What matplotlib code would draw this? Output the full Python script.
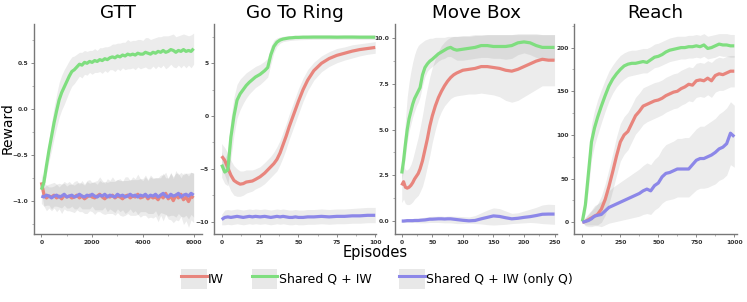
import numpy as np
import matplotlib
matplotlib.use("Agg")
import matplotlib.pyplot as plt
from matplotlib.lines import Line2D
from matplotlib.patches import Patch
from matplotlib.legend_handler import HandlerTuple
from matplotlib.ticker import AutoMinorLocator, FixedLocator

# ---------------- data ----------------
series_names = ["IW", "Shared Q + IW", "Shared Q + IW (only Q)"]
panel_titles = ["GTT", "Go To Ring", "Move Box", "Reach"]

# GTT (x every 100 episodes)
gtt_x = list(range(0, 6001, 100))
gtt_green = [-0.88, -0.80, -0.62, -0.45, -0.30, -0.15, -0.02, 0.10, 0.18, 0.24, 0.30,
             0.36, 0.41, 0.43, 0.46, 0.49, 0.48, 0.51, 0.50, 0.52, 0.51, 0.53, 0.52,
             0.54, 0.53, 0.55, 0.54, 0.56, 0.57, 0.56, 0.58, 0.57, 0.59, 0.58, 0.60,
             0.59, 0.60, 0.59, 0.61, 0.60, 0.60, 0.62, 0.61, 0.60, 0.62, 0.61, 0.63,
             0.62, 0.64, 0.62, 0.63, 0.65, 0.64, 0.62, 0.64, 0.63, 0.65, 0.63, 0.64,
             0.63, 0.66]
gtt_green_sd = [0.04, 0.06, 0.09, 0.12, 0.15, 0.17, 0.18, 0.19, 0.19, 0.19, 0.18,
                0.17, 0.16, 0.15, 0.14, 0.13, 0.14, 0.13, 0.13, 0.12, 0.13, 0.13, 0.12,
                0.13, 0.14, 0.13, 0.14, 0.13, 0.14, 0.15, 0.14, 0.15, 0.14, 0.15, 0.16,
                0.15, 0.15, 0.16, 0.15, 0.16, 0.15, 0.16, 0.17, 0.16, 0.15, 0.17, 0.16,
                0.17, 0.16, 0.18, 0.17, 0.16, 0.18, 0.17, 0.16, 0.18, 0.17, 0.18, 0.16,
                0.18, 0.17]
gtt_red = [-0.80, -0.93, -0.97, -0.95, -0.96, -0.94, -0.97, -0.95, -0.98, -0.94, -0.96,
           -0.95, -0.97, -0.96, -0.94, -0.97, -0.95, -0.98, -0.96, -0.94, -0.96, -0.97,
           -0.95, -0.93, -0.96, -0.98, -0.95, -0.96, -0.94, -0.97, -0.95, -0.96, -0.98,
           -0.95, -0.94, -0.97, -0.95, -0.96, -0.93, -0.97, -0.96, -0.94, -0.98, -0.95,
           -0.97, -0.96, -0.99, -0.94, -0.97, -0.92, -0.98, -0.95, -1.00, -0.94, -0.97,
           -0.93, -0.99, -0.96, -1.01, -0.95, -0.97]
gtt_red_sd = [0.10, 0.13, 0.14, 0.13, 0.15, 0.14, 0.15, 0.14, 0.16, 0.15, 0.15,
              0.16, 0.15, 0.17, 0.16, 0.15, 0.17, 0.16, 0.18, 0.17, 0.16, 0.18, 0.17,
              0.19, 0.18, 0.17, 0.19, 0.18, 0.20, 0.19, 0.18, 0.20, 0.19, 0.21, 0.20,
              0.19, 0.21, 0.20, 0.22, 0.21, 0.20, 0.22, 0.21, 0.23, 0.22, 0.21, 0.24,
              0.22, 0.25, 0.23, 0.22, 0.26, 0.24, 0.27, 0.25, 0.24, 0.27, 0.26, 0.28,
              0.26, 0.27]
gtt_purple = [-0.95, -0.96, -0.94, -0.95, -0.97, -0.95, -0.94, -0.96, -0.95, -0.93, -0.96,
              -0.95, -0.94, -0.96, -0.95, -0.93, -0.95, -0.96, -0.94, -0.95, -0.93, -0.95,
              -0.96, -0.94, -0.95, -0.93, -0.96, -0.94, -0.95, -0.96, -0.93, -0.95, -0.94,
              -0.96, -0.95, -0.93, -0.95, -0.94, -0.96, -0.94, -0.95, -0.93, -0.96, -0.94,
              -0.95, -0.93, -0.96, -0.94, -0.92, -0.95, -0.96, -0.93, -0.95, -0.94, -0.92,
              -0.96, -0.94, -0.93, -0.95, -0.92, -0.94]
gtt_purple_sd = [0.08, 0.10, 0.11, 0.10, 0.12, 0.11, 0.12, 0.11, 0.13, 0.12, 0.12,
                 0.13, 0.12, 0.13, 0.14, 0.13, 0.14, 0.13, 0.15, 0.14, 0.13, 0.15, 0.14,
                 0.16, 0.15, 0.14, 0.16, 0.15, 0.16, 0.17, 0.16, 0.17, 0.16, 0.18, 0.17,
                 0.16, 0.18, 0.17, 0.19, 0.18, 0.17, 0.19, 0.18, 0.20, 0.19, 0.18, 0.21,
                 0.19, 0.22, 0.20, 0.21, 0.23, 0.21, 0.24, 0.22, 0.21, 0.24, 0.23, 0.25,
                 0.23, 0.24]

# Go To Ring
gtr_x = [0, 2, 4, 6, 8, 10, 12, 14, 16, 18, 20, 22, 25, 28, 30, 32, 34, 36, 38, 40,
         42, 44, 46, 48, 50, 53, 56, 60, 65, 70, 75, 80, 85, 90, 95, 100]
gtr_green = [-4.6, -5.3, -5.1, -2.0, 0.0, 1.5, 2.1, 2.5, 2.9, 3.2, 3.45, 3.7, 3.95, 4.3,
             4.6, 5.8, 6.6, 7.0, 7.2, 7.3, 7.35, 7.4, 7.42, 7.45, 7.45, 7.47, 7.47, 7.48,
             7.48, 7.48, 7.47, 7.48, 7.48, 7.47, 7.47, 7.47]
gtr_green_lo = [-5.8, -6.4, -6.6, -4.0, -1.8, -0.2, 0.6, 1.2, 1.7, 2.1, 2.4, 2.7, 3.0,
                3.4, 3.7, 4.9, 6.0, 6.6, 6.9, 7.05, 7.1, 7.15, 7.18, 7.2, 7.22, 7.24,
                7.25, 7.26, 7.26, 7.26, 7.25, 7.26, 7.26, 7.25, 7.25, 7.25]
gtr_green_hi = [-3.4, -4.0, -3.4, -0.2, 1.8, 3.0, 3.5, 3.8, 4.1, 4.3, 4.5, 4.7, 4.9,
                5.2, 5.5, 6.6, 7.2, 7.4, 7.5, 7.55, 7.6, 7.62, 7.64, 7.66, 7.67, 7.68,
                7.69, 7.7, 7.7, 7.7, 7.69, 7.7, 7.7, 7.69, 7.69, 7.69]
gtr_red = [-3.8, -4.2, -4.9, -5.6, -6.1, -6.3, -6.45, -6.4, -6.25, -6.2, -6.15, -6.0,
           -5.75, -5.4, -5.1, -4.8, -4.5, -4.1, -3.5, -2.7, -1.9, -1.0, -0.2, 0.6, 1.4,
           2.5, 3.4, 4.3, 5.0, 5.45, 5.75, 5.95, 6.15, 6.3, 6.4, 6.5]
gtr_red_lo = [-5.0, -5.6, -6.4, -7.1, -7.5, -7.6, -7.6, -7.5, -7.3, -7.2, -7.1, -6.9,
              -6.7, -6.4, -6.1, -5.8, -5.5, -5.2, -4.6, -3.9, -3.1, -2.2, -1.4, -0.6,
              0.2, 1.4, 2.4, 3.4, 4.2, 4.7, 5.05, 5.3, 5.5, 5.7, 5.85, 5.95]
gtr_red_hi = [-2.6, -3.0, -3.5, -4.2, -4.7, -5.0, -5.2, -5.2, -5.1, -5.1, -5.1, -5.0,
              -4.8, -4.4, -4.1, -3.8, -3.4, -2.9, -2.3, -1.5, -0.7, 0.2, 1.0, 1.8, 2.6,
              3.6, 4.4, 5.1, 5.7, 6.1, 6.4, 6.55, 6.75, 6.85, 6.95, 7.05]
gtr_purple = [-9.8, -9.6, -9.55, -9.6, -9.55, -9.5, -9.55, -9.6, -9.55, -9.5, -9.55,
              -9.5, -9.55, -9.5, -9.55, -9.6, -9.55, -9.5, -9.55, -9.5, -9.55, -9.6,
              -9.6, -9.55, -9.6, -9.6, -9.55, -9.55, -9.5, -9.55, -9.5, -9.5, -9.45,
              -9.45, -9.4, -9.4]
gtr_purple_lo = [-10.3, -10.3, -10.25, -10.3, -10.25, -10.2, -10.25, -10.3, -10.25,
                 -10.2, -10.25, -10.2, -10.25, -10.2, -10.25, -10.3, -10.25, -10.2,
                 -10.25, -10.2, -10.25, -10.3, -10.3, -10.25, -10.3, -10.3, -10.25,
                 -10.25, -10.2, -10.25, -10.2, -10.2, -10.15, -10.15, -10.1, -10.1]
gtr_purple_hi = [-9.3, -8.9, -8.85, -8.9, -8.85, -8.8, -8.85, -8.9, -8.85, -8.8, -8.85,
                 -8.8, -8.85, -8.8, -8.85, -8.9, -8.85, -8.8, -8.85, -8.8, -8.85, -8.9,
                 -8.9, -8.85, -8.9, -8.9, -8.85, -8.85, -8.8, -8.85, -8.8, -8.8, -8.75,
                 -8.7, -8.65, -8.65]

# Move Box
mb_x = [0, 3, 6, 9, 12, 15, 18, 21, 24, 27, 30, 34, 38, 42, 46, 50, 55, 60, 65, 70,
        75, 80, 85, 90, 100, 110, 120, 130, 140, 150, 160, 170, 180, 190, 200, 210,
        220, 230, 240, 250]
mb_green = [2.6, 3.3, 4.2, 5.0, 5.6, 6.0, 6.4, 6.7, 6.9, 7.1, 7.3, 8.0, 8.4, 8.6, 8.75,
            8.85, 9.0, 9.15, 9.25, 9.35, 9.45, 9.5, 9.4, 9.35, 9.4, 9.45, 9.5, 9.6, 9.6,
            9.55, 9.55, 9.55, 9.6, 9.75, 9.8, 9.75, 9.6, 9.5, 9.5, 9.5]
mb_green_lo = [2.2, 2.8, 3.5, 4.3, 4.9, 5.3, 5.7, 6.0, 6.3, 6.5, 6.8, 7.4, 7.9, 8.2,
               8.35, 8.45, 8.6, 8.75, 8.85, 8.9, 9.0, 9.0, 8.9, 8.8, 8.8, 8.85, 8.9,
               8.95, 8.95, 8.9, 8.9, 8.85, 8.9, 9.1, 9.2, 9.1, 8.95, 8.85, 8.8, 8.8]
mb_green_hi = [3.2, 4.2, 5.5, 6.8, 7.6, 8.2, 8.7, 9.1, 9.4, 9.6, 9.7, 9.8, 9.9, 9.95,
               10.0, 10.0, 10.05, 10.05, 10.05, 10.05, 10.1, 10.1, 10.1, 10.1, 10.1,
               10.1, 10.15, 10.15, 10.2, 10.2, 10.2, 10.2, 10.2, 10.25, 10.25, 10.25,
               10.25, 10.2, 10.2, 10.2]
mb_red = [1.95, 2.15, 1.85, 1.8, 1.85, 1.95, 2.1, 2.3, 2.45, 2.6, 2.85, 3.3, 3.9, 4.5,
          5.2, 5.75, 6.3, 6.75, 7.1, 7.4, 7.65, 7.85, 8.0, 8.1, 8.25, 8.3, 8.35, 8.45,
          8.45, 8.4, 8.35, 8.25, 8.2, 8.3, 8.45, 8.6, 8.75, 8.85, 8.8, 8.8]
mb_red_lo = [1.0, 1.2, 0.95, 0.9, 0.9, 0.95, 1.05, 1.2, 1.3, 1.4, 1.6, 1.9, 2.4, 3.0,
             3.6, 4.3, 5.0, 5.6, 6.0, 6.3, 6.5, 6.7, 6.8, 6.85, 6.9, 6.95, 6.95, 7.0,
             6.95, 6.9, 6.8, 6.6, 6.5, 6.6, 6.8, 7.0, 7.2, 7.4, 7.4, 7.4]
mb_red_hi = [2.9, 3.0, 2.8, 2.8, 2.9, 3.1, 3.4, 3.8, 4.2, 4.6, 5.1, 5.8, 6.6, 7.3, 7.9,
             8.4, 8.9, 9.3, 9.6, 9.8, 9.95, 10.05, 10.1, 10.1, 10.15, 10.15, 10.2,
             10.2, 10.2, 10.2, 10.2, 10.2, 10.2, 10.2, 10.2, 10.2, 10.2, 10.2, 10.2,
             10.2]
mb_purple = [0.0, 0.0, 0.01, 0.02, 0.02, 0.02, 0.02, 0.03, 0.03, 0.03, 0.04, 0.05,
             0.06, 0.08, 0.1, 0.1, 0.11, 0.12, 0.12, 0.11, 0.12, 0.12, 0.1, 0.08, 0.04,
             0.01, 0.03, 0.12, 0.2, 0.28, 0.25, 0.18, 0.12, 0.15, 0.2, 0.24, 0.3, 0.37,
             0.38, 0.38]
mb_purple_lo = [-0.08, -0.08, -0.07, -0.07, -0.07, -0.08, -0.08, -0.08, -0.09, -0.09,
                -0.1, -0.1, -0.1, -0.09, -0.08, -0.08, -0.08, -0.08, -0.09, -0.1,
                -0.1, -0.1, -0.12, -0.14, -0.14, -0.12, -0.14, -0.16, -0.2, -0.22,
                -0.2, -0.18, -0.14, -0.12, -0.1, -0.08, -0.1, -0.14, -0.16, -0.18]
mb_purple_hi = [0.08, 0.08, 0.09, 0.11, 0.11, 0.12, 0.12, 0.14, 0.15, 0.15, 0.17, 0.19,
                0.21, 0.23, 0.25, 0.26, 0.26, 0.27, 0.27, 0.25, 0.27, 0.27, 0.26, 0.26,
                0.24, 0.22, 0.3, 0.45, 0.6, 0.72, 0.68, 0.55, 0.42, 0.45, 0.55, 0.65,
                0.75, 0.88, 0.92, 0.9]

# Reach
re_x = [0, 20, 40, 60, 80, 100, 125, 150, 175, 200, 225, 250, 275, 300, 325, 350, 375,
        400, 425, 450, 475, 500, 525, 550, 575, 600, 625, 650, 675, 700, 725, 750, 775,
        800, 825, 850, 875, 900, 925, 950, 975, 1000]
re_green = [1, 20, 56, 92, 108, 120, 133, 145, 156, 164, 170, 175, 179, 181, 182, 182,
            183, 184, 183, 186, 189, 190, 192, 195, 197, 198, 199, 200, 200, 201, 201,
            202, 201, 203, 199, 200, 202, 204, 203, 203, 202, 202]
re_green_lo = [0, 10, 38, 72, 88, 100, 114, 127, 139, 148, 155, 160, 164, 167, 168,
               169, 170, 171, 171, 174, 177, 178, 180, 182, 184, 185, 186, 187, 187, 188,
               188, 189, 188, 190, 187, 188, 189, 191, 190, 190, 189, 189]
re_green_hi = [2, 30, 74, 112, 128, 140, 152, 163, 173, 180, 186, 191, 194, 196, 197,
               197, 198, 199, 199, 201, 204, 205, 207, 209, 211, 212, 213, 213, 213, 214,
               214, 215, 214, 216, 213, 214, 215, 216, 216, 216, 215, 215]
re_red = [0, 1, 3, 5, 7, 9, 15, 26, 41, 58, 76, 92, 100, 104, 113, 122, 127, 133, 135,
          137, 139, 140, 142, 145, 147, 149, 150, 153, 155, 158, 157, 162, 163, 162, 165,
          162, 168, 170, 169, 171, 173, 173]
re_red_lo = [0, -3, -3, -3, -3, -3, 0, 8, 21, 37, 54, 70, 78, 83, 92, 101, 106, 112, 115,
             117, 119, 121, 123, 126, 128, 130, 131, 134, 136, 139, 138, 143, 144, 143,
             146, 143, 149, 151, 151, 153, 155, 155]
re_red_hi = [1, 5, 9, 13, 17, 21, 30, 44, 61, 79, 98, 113, 121, 126, 134, 143, 148, 154,
             156, 158, 160, 161, 163, 166, 168, 170, 171, 174, 176, 178, 177, 182, 183,
             182, 185, 183, 187, 189, 188, 190, 191, 191]
re_purple = [0, 1, 2, 4, 7, 8, 9, 13, 17, 19, 21, 23, 25, 27, 29, 31, 33, 36, 38, 36, 42,
             45, 52, 56, 57, 59, 61, 61, 61, 61, 66, 71, 73, 73, 75, 77, 80, 84, 86, 90,
             102, 98]
re_purple_lo = [0, -4, -5, -5, -4, -4, -5, -3, -1, 0, 1, 2, 3, 4, 5, 6, 7, 9, 10, 9, 14,
                17, 22, 25, 26, 27, 29, 29, 29, 29, 33, 37, 39, 39, 40, 42, 44, 48, 50,
                54, 66, 63]
re_purple_hi = [1, 6, 10, 14, 19, 21, 24, 30, 36, 40, 43, 46, 49, 52, 55, 58, 61, 65, 68,
                66, 72, 76, 84, 89, 91, 93, 96, 96, 97, 97, 102, 107, 110, 110, 113, 116,
                119, 124, 127, 131, 138, 134]

# ---------------- style ----------------
colors = ["#e8857d", "#7fde7f", "#8c87e8"]
band_color = "#808080"
band_alpha = 0.15

fig = plt.figure(figsize=(7.47, 3.02), dpi=100)
W, H = 747.0, 302.0

def add_ax(l, r, t, b):
    return fig.add_axes([l / W, 1 - b / H, (r - l) / W, (b - t) / H])

ax_boxes = [(34, 202, 24, 234), (214, 376, 24, 234), (395, 557, 24, 234), (574, 737, 24, 234)]
axes = [add_ax(*bx) for bx in ax_boxes]

def style(ax):
    for s in ["top", "right"]:
        ax.spines[s].set_visible(False)
    for s in ["left", "bottom"]:
        ax.spines[s].set_color("#777777")
        ax.spines[s].set_linewidth(1.0)
    ax.tick_params(axis="both", which="major", length=2.5, width=0.6, color="#777777",
                   labelsize=4.3, labelcolor="#333333", pad=1.5)
    ax.tick_params(axis="both", which="minor", length=1.5, width=0.5, color="#999999")
    for lab in ax.get_xticklabels() + ax.get_yticklabels():
        lab.set_fontweight("bold")
    ax.xaxis.set_minor_locator(AutoMinorLocator(2))
    ax.yaxis.set_minor_locator(AutoMinorLocator(2))
    ax.set_facecolor("white")

def draw(ax, x, ys, los, his):
    x = np.asarray(x)
    for y, lo, hi in zip(ys, los, his):
        ax.fill_between(x, lo, hi, color=band_color, alpha=band_alpha, linewidth=0)
    for y, c in zip(ys, colors):
        ax.plot(x, y, color=c, lw=2.3, solid_capstyle="butt")

# GTT
gx = np.asarray(gtt_x)
gys = [np.asarray(gtt_red), np.asarray(gtt_green), np.asarray(gtt_purple)]
gsd = [np.asarray(gtt_red_sd), np.asarray(gtt_green_sd), np.asarray(gtt_purple_sd)]
draw(axes[0], gx, gys, [y - s for y, s in zip(gys, gsd)], [y + s for y, s in zip(gys, gsd)])
axes[0].set_xlim(-290, 6330)
axes[0].set_ylim(-1.364, 0.929)
axes[0].xaxis.set_major_locator(FixedLocator([0, 2000, 4000, 6000]))
axes[0].yaxis.set_major_locator(FixedLocator([-1, -0.5, 0, 0.5]))

draw(axes[1], gtr_x, [gtr_red, gtr_green, gtr_purple],
     [gtr_red_lo, gtr_green_lo, gtr_purple_lo], [gtr_red_hi, gtr_green_hi, gtr_purple_hi])
axes[1].set_xlim(-5, 100.5)
axes[1].set_ylim(-11.17, 8.72)
axes[1].xaxis.set_major_locator(FixedLocator([0, 25, 50, 75, 100]))
axes[1].yaxis.set_major_locator(FixedLocator([-10, -5, 0, 5]))

draw(axes[2], mb_x, [mb_red, mb_green, mb_purple],
     [mb_red_lo, mb_green_lo, mb_purple_lo], [mb_red_hi, mb_green_hi, mb_purple_hi])
axes[2].set_xlim(-11, 254)
axes[2].set_ylim(-0.71, 10.78)
axes[2].xaxis.set_major_locator(FixedLocator([0, 50, 100, 150, 200, 250]))
axes[2].yaxis.set_major_locator(FixedLocator([0, 2.5, 5, 7.5, 10]))

draw(axes[3], re_x, [re_red, re_green, re_purple],
     [re_red_lo, re_green_lo, re_purple_lo], [re_red_hi, re_green_hi, re_purple_hi])
axes[3].set_xlim(-55, 1018)
axes[3].set_ylim(-13.4, 227)
axes[3].xaxis.set_major_locator(FixedLocator([0, 250, 500, 750, 1000]))
axes[3].yaxis.set_major_locator(FixedLocator([0, 50, 100, 150, 200]))

for ax, (l, r, t, b), title in zip(axes, ax_boxes, panel_titles):
    style(ax)
    fig.text((l + r) / 2 / W, 1 - 13 / H, title, ha="center", va="center", fontsize=13.2)

fig.text(8 / W, 1 - 128 / H, "Reward", rotation=90, ha="center", va="center", fontsize=10)
fig.text(375 / W, 1 - 252 / H, "Episodes", ha="center", va="center", fontsize=10.5)

handles = [(Patch(facecolor="#e8e8e8", edgecolor="none"), Line2D([], [], color=c, lw=2.2))
           for c in colors]
fig.legend(handles, series_names, loc="center", bbox_to_anchor=(377 / W, 1 - 279 / H),
           ncol=3, frameon=False, fontsize=9, handlelength=2.05, handleheight=2.05,
           handletextpad=0.12, columnspacing=2.2, borderpad=0,
           handler_map={tuple: HandlerTuple(ndivide=1)})

fig.savefig("out.png", dpi=100)
